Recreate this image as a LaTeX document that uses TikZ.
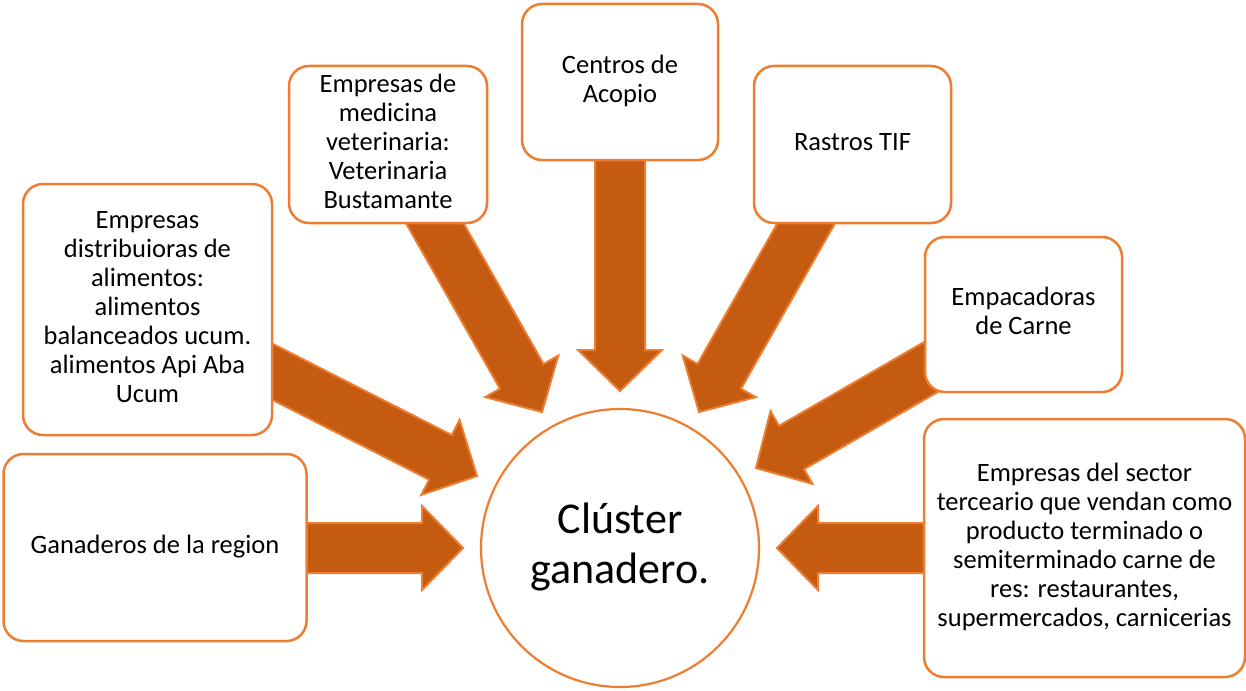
\documentclass[tikz,border=0pt]{standalone}
\usepackage{fontspec}
\setmainfont{Carlito}
\definecolor{boxorange}{HTML}{ED7D31}
\definecolor{arrowfill}{HTML}{C55A11}
\newcommand\blkarrow[3]{%
  \begin{scope}[shift={(#1)}, rotate=#2]
    \draw[blockarrow] (0,0) -- (-41,42) -- (-41,25) -- (-#3,25) -- (-#3,-25)
      -- (-41,-25) -- (-41,-42) -- cycle;
  \end{scope}}
\tikzset{
  blockarrow/.style={fill=arrowfill, draw=boxorange, line width=2pt, line join=miter},
  boxnode/.style={draw=boxorange, fill=white, line width=2.5pt, rounded corners=20pt,
    inner sep=0pt, align=center, font=\fontsize{26.5}{29}\selectfont, text=black},
  hubnode/.style={circle, draw=boxorange, fill=white, line width=2.2pt, inner sep=0pt,
    minimum size=278pt, align=center, font=\fontsize{44}{50}\selectfont, text=black}
}
\begin{document}
\begin{tikzpicture}[x=1pt, y=-1pt]
\useasboundingbox (0,0) rectangle (1246,690);
\fill[white] (0,0) rectangle (1246,690);
% arrow tips
\coordinate (tGan) at (463,548);
\coordinate (tSec) at (777,548);
\coordinate (tAco) at (620,391);
\coordinate (tMed) at (542,412);
\coordinate (tRas) at (699,412);
\coordinate (tDis) at (477,476);
\coordinate (tEmp) at (756,468);
% block arrows (drawn first, boxes cover their tails)
\blkarrow{tGan}{0}{173}
\blkarrow{tSec}{180}{163}
\blkarrow{tAco}{-90}{241}
\blkarrow{tMed}{-60.4}{238}
\blkarrow{tRas}{-119.6}{238}
\blkarrow{tDis}{-27}{255}
\blkarrow{tEmp}{210}{218}
% boxes
\node[boxnode, minimum width=303pt, minimum height=187pt] (gan) at (155,547.5)
  {\strut Ganaderos de la region\strut};
\node[boxnode, minimum width=249pt, minimum height=251pt] (dis) at (147.5,309.5)
  {\strut Empresas\\ distribuioras de\\ alimentos:\\ alimentos\\ balanceados ucum.\\ alimentos Api Aba\\ Ucum\strut};
\node[boxnode, minimum width=198pt, minimum height=157pt] (med) at (388,144.5)
  {\strut Empresas de\\ medicina\\ veterinaria:\\ Veterinaria\\ Bustamante\strut};
\node[boxnode, minimum width=196pt, minimum height=156pt] (aco) at (620,82)
  {\strut Centros de\\ Acopio\strut};
\node[boxnode, minimum width=197pt, minimum height=157pt] (ras) at (852.5,144.5)
  {\strut Rastros TIF\strut};
\node[boxnode, minimum width=197pt, minimum height=155pt] (emp) at (1023.5,314.5)
  {\strut Empacadoras\\ de Carne\strut};
\node[boxnode, minimum width=321pt, minimum height=258pt] (sec) at (1084.5,548)
  {\strut Empresas del sector\\ terceario que vendan como\\ producto terminado o\\ semiterminado carne de\\ res: restaurantes,\\ supermercados, carnicerias\strut};
% hub
\node[hubnode] (hub) at (620,548) {\strut Clúster\\ ganadero.\strut};
\end{tikzpicture}
\end{document}
